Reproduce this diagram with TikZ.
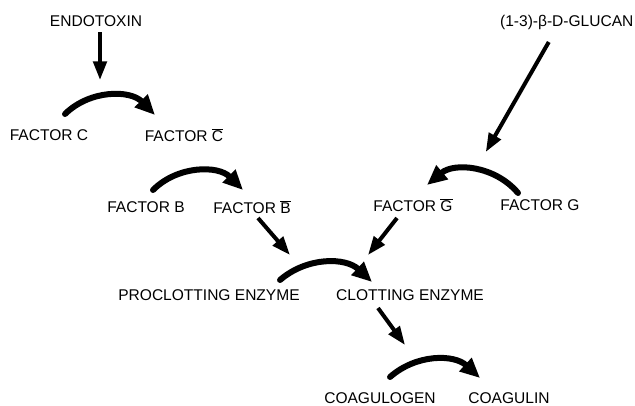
\documentclass[tikz,border=0pt]{standalone}
\usepackage{fontspec}
\setmainfont{Liberation Sans}
\usepackage{tikz}
\usetikzlibrary{arrows.meta, calc}
\newcommand{\actv}[1]{$\overline{\mbox{#1}}$}

\begin{document}
\begin{tikzpicture}[
  x=0.75bp, y=-0.75bp,
  font=\fontsize{11.7}{13}\selectfont,
  label/.style={inner sep=1pt},
  arrow/.style={-{Triangle[length=14pt, width=10pt]}, line width=3bp, draw=black},
  turn/.style={-{Triangle[length=15pt, width=13pt]}, line width=4.5bp, draw=black, line cap=round}
]
\useasboundingbox (0,0) rectangle (635,406);

\node[label] (endo) at (96,21) {ENDOTOXIN};
\node[label, anchor=east] (glucan) at (635,22) {(1-3)-β-D-GLUCAN};

\node[label] (fc) at (49,135) {FACTOR C};
\node[label] (fca) at (184,135) {FACTOR \actv{C}};
\node[label] (fb) at (146,207) {FACTOR B};
\node[label] (fba) at (252,207) {FACTOR \actv{B}};
\node[label] (fga) at (413,205) {FACTOR \actv{G}};
\node[label] (fg) at (540,205) {FACTOR G};

\node[label] (pro) at (209,295) {PROCLOTTING ENZYME};
\node[label] (clot) at (410,295) {CLOTTING ENZYME};
\node[label] (cgen) at (380,398) {COAGULOGEN};
\node[label] (cgul) at (509,398) {COAGULIN};

% activation steps
\draw[turn] ($(fc)+(16,-21)$) to[bend left=45] ($(fca)+(-29,-20)$);
\draw[turn] ($(fb)+(7,-17)$) to[bend left=45] ($(fba)+(-9,-17)$);
\draw[turn] ($(fg)+(-22,-12)$) to[bend right=45] ($(fga)+(14,-20)$);
\draw[turn] ($(pro)+(71,-15)$) to[bend left=42] ($(clot)+(-38,-13)$);
\draw[turn] ($(cgen)+(10,-21)$) to[bend left=42] ($(cgul)+(-29,-20)$);

% triggers
\draw[arrow] ($(endo)+(4,11)$) -- ($(endo)+(4,59)$);
\draw[arrow] ($(glucan)+(-18,20)$) -- ($(glucan)+(-81,130)$);
\draw[arrow] ($(fba)+(6,11)$) -- ($(fba)+(38,48)$);
\draw[arrow] ($(fga)+(-16,13)$) -- ($(fga)+(-45,50)$);
\draw[arrow] ($(clot)+(-32,13)$) -- ($(clot)+(-5,50)$);
\end{tikzpicture}
\end{document}
